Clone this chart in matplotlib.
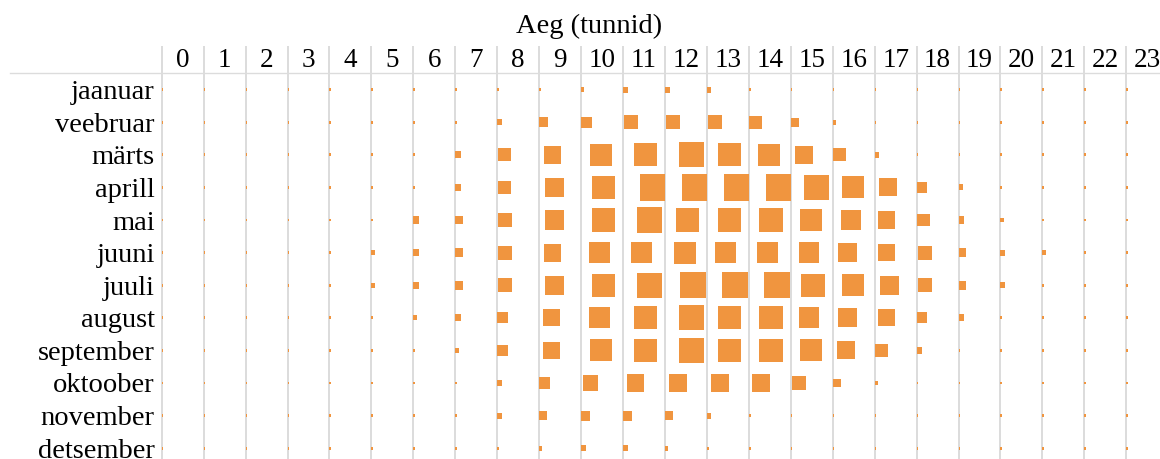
import numpy as np
import matplotlib
matplotlib.use("Agg")
import matplotlib.pyplot as plt
from matplotlib.lines import Line2D

# ---------------- data ----------------
months = ["jaanuar", "veebruar", "märts", "aprill", "mai", "juuni", "juuli",
          "august", "september", "oktoober", "november", "detsember"]
hours = list(range(24))
hour_labels = [str(h) for h in hours]
title = "Aeg (tunnid)"

jaanuar   = [1, 1, 1, 1, 1, 1, 1, 1, 1, 1, 3, 5, 5, 5, 1, 1, 1, 1, 1, 1, 1, 1, 1, 1]
veebruar  = [1, 1, 1, 1, 1, 1, 1, 1, 5, 14, 17, 27, 27, 27, 23, 11, 3, 1, 1, 1, 1, 1, 1, 1]
marts     = [1, 1, 1, 1, 1, 1, 1, 7, 23, 44, 66, 73, 86, 73, 66, 44, 23, 5, 1, 1, 1, 1, 1, 1]
aprill    = [1, 1, 1, 1, 1, 1, 1, 7, 23, 50, 73, 100, 100, 100, 100, 86, 66, 44, 17, 5, 1, 1, 1, 1]
mai       = [1, 1, 1, 1, 1, 1, 7, 11, 27, 50, 73, 86, 73, 73, 73, 66, 60, 40, 23, 7, 3, 1, 1, 1]
juuni     = [1, 1, 1, 1, 1, 3, 7, 11, 27, 44, 60, 60, 66, 60, 60, 60, 50, 40, 27, 11, 5, 3, 1, 1]
juuli     = [1, 1, 1, 1, 1, 3, 7, 11, 27, 50, 73, 86, 93, 93, 93, 73, 66, 50, 27, 11, 5, 1, 1, 1]
august    = [1, 1, 1, 1, 1, 1, 3, 7, 17, 40, 60, 73, 86, 73, 73, 60, 50, 40, 17, 7, 1, 1, 1, 1]
september = [1, 1, 1, 1, 1, 1, 1, 3, 17, 40, 66, 73, 86, 73, 73, 66, 44, 23, 7, 1, 1, 1, 1, 1]
oktoober  = [1, 1, 1, 1, 1, 1, 1, 1, 5, 17, 31, 40, 44, 44, 40, 27, 11, 3, 1, 1, 1, 1, 1, 1]
november  = [1, 1, 1, 1, 1, 1, 1, 1, 5, 11, 14, 14, 11, 5, 1, 1, 1, 1, 1, 1, 1, 1, 1, 1]
detsember = [1, 1, 1, 1, 1, 1, 1, 1, 1, 3, 5, 5, 3, 1, 1, 1, 1, 1, 1, 1, 1, 1, 1, 1]

values = [jaanuar, veebruar, marts, aprill, mai, juuni, juuli,
          august, september, oktoober, november, detsember]

# ---------------- layout ----------------
W, H = 1160, 459
COLW = 41.94      # px per hour column
ROWH = 32.6       # px per month row
X0 = 161.7        # px, left of hour 0
Y0 = 73.3         # px, top of data area
MAXSIDE = 27.0    # px, side of the square for value 100
ORANGE = "#f0953f"
GRID = "#d9d9d9"
FONT = ["Liberation Serif", "DejaVu Serif"]

plt.rcParams["font.family"] = FONT

fig = plt.figure(figsize=(W / 100, H / 100), dpi=100)
ax = fig.add_axes([X0 / W, 0, 1 - X0 / W, 1 - Y0 / H])
xmax = (W - X0) / COLW
ymax = (H - Y0) / ROWH
ax.set_xlim(0, xmax)
ax.set_ylim(ymax, 0)

# vertical gridlines extending into header
header_top = -(Y0 - 45.7) / ROWH
ax.vlines(hours, header_top, ymax, colors=GRID, lw=1.3, zorder=1, clip_on=False)

# marks: square area ~ value, x position shifted by value, clipped to its cell
for i, row in enumerate(values):
    for h, v in zip(hours, row):
        side = MAXSIDE * np.sqrt(v / 100.0)
        off = (side ** 2 / 24.0) / COLW
        sx = side / COLW
        sy = side / ROWH
        left = max(h, h + off - sx / 2)
        right = min(h + 1, h + off + sx / 2)
        ax.bar(left, sy, width=right - left, bottom=i + 0.5 - sy / 2,
               align="edge", color=ORANGE, linewidth=0, zorder=2)

# header tick labels
ax.xaxis.tick_top()
ax.set_xticks(np.array(hours) + 0.5)
ax.set_xticklabels(hour_labels, fontsize=19.5)
ax.tick_params(axis="x", length=0, pad=0)
ax.set_yticks(np.arange(len(months)) + 0.5)
ax.set_yticklabels(months, fontsize=20.5)
ax.tick_params(axis="y", length=0, pad=5)
for sp in ax.spines.values():
    sp.set_visible(False)

# header separator line
fig.add_artist(Line2D([10 / W, 1], [1 - Y0 / H, 1 - Y0 / H], color="#dcdcdc", lw=1.0))

fig.text(589.5 / W, 1 - 26 / H, title, ha="center", va="center", fontsize=20.5)

fig.savefig("out.png", dpi=100)
